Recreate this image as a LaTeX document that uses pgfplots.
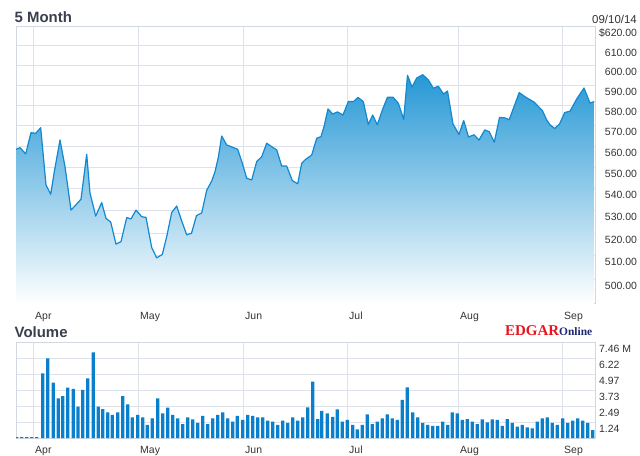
\documentclass[border=0pt]{standalone}
\usepackage{fontspec}
\setmainfont{Liberation Sans}
\newfontfamily\logofont{Liberation Serif}
\usepackage{pgfplots}
\pgfplotsset{compat=1.18}
\usepackage{pgfplotstable}

\definecolor{gridcol}{RGB}{222,226,234}
\definecolor{framecol}{RGB}{210,216,226}
\definecolor{labelcol}{RGB}{51,51,51}
\definecolor{titlecol}{RGB}{58,63,78}
\definecolor{linecol}{RGB}{18,136,208}
\definecolor{filltop}{RGB}{38,152,213}
\definecolor{barcol}{RGB}{10,128,205}
\definecolor{edgarred}{RGB}{232,20,30}
\definecolor{edgarnavy}{RGB}{30,40,110}

\pgfplotstableread{
x y
16 558.5
20 559.3
25.7 556.3
31 566.5
35.7 566.2
40.7 568.9
46 541.8
50.7 537.5
54.3 547.9
60 563.0
65 550.3
71 530.3
81 535.2
86.7 556.2
90 538.0
95.7 527.6
101.7 533.7
106 526.6
110.7 524.9
116 515.1
121 516.2
126.7 526.9
131 526.3
136 530.3
141.7 527.3
146 527.0
151.7 513.6
156.7 509.1
162.3 510.6
166.7 518.4
171.7 529.2
176.7 532.1
181.7 525.4
186.7 519.2
191.5 519.9
196.5 527.8
201.7 529.0
206.7 539.3
211.7 543.6
215 547.9
218.3 554.7
221.7 564.9
226.7 560.6
232.3 559.5
237.7 558.5
242.3 551.9
246.7 544.9
251.7 544.1
256.7 552.7
261.7 555.0
266.7 561.4
271.7 559.8
276.7 558.2
281.7 550.6
286.7 550.6
292.3 543.8
297.7 542.3
301.7 551.9
305 553.5
311.7 555.8
316.7 563.8
321 564.6
324 569.4
328 578.1
332.7 575.6
337.5 576.6
343 575.1
348.3 581.7
353.5 581.7
358 583.8
363.3 581.7
368.3 570.5
372.7 575.1
377.3 570.3
382.7 578.0
387.5 583.9
393 583.9
398.3 580.9
403.7 573.0
407.5 594.9
412 589.0
416.7 593.5
422.7 595.2
428.3 592.6
433.3 588.4
438.3 589.4
443.5 585.5
447.5 587.0
453 570.7
459 565.6
463.7 572.4
468.5 564.4
474 565.5
479 562.9
484.7 567.8
489.2 567.0
494.3 561.9
499.5 573.9
504.7 573.7
509.2 572.8
519.2 586.2
526 583.8
534 581.5
542.5 577.2
546.7 572.7
550 570.3
554.7 568.5
559.5 570.7
564.7 576.3
570 577.0
576.7 583.0
584 588.5
590 581.0
594.3 581.7
}\price

\pgfplotstableread{
x v
16.7 0.06
21.7 0.06
26.7 0.06
31.7 0.06
36.7 0.06
42.7 5.05
47.7 6.22
53.3 4.32
58.3 3.10
62.7 3.28
67.7 3.93
73.3 3.83
78 2.45
82.7 3.75
87.7 4.66
93.3 6.69
98.3 2.45
102.7 2.26
107.7 2.00
112.3 1.80
117.7 2.00
122.7 3.28
127.7 2.63
132.3 1.62
137.7 1.80
142.7 1.62
147.3 1.02
152.3 1.54
157.7 3.10
162.7 1.93
167.7 2.37
172.7 1.80
177.7 1.54
182.7 1.09
187.7 1.62
192.7 1.46
197.7 1.19
202.7 1.72
207.7 1.09
212.7 1.54
217.7 1.80
222.7 2.00
227.7 1.54
232.7 1.27
237.3 1.72
242.7 1.41
247.7 1.80
252.7 1.72
257.7 1.62
262.7 1.62
267.7 1.35
272.7 1.27
277.7 1.02
282.7 1.35
287.7 1.19
292.7 1.62
297.7 1.35
302.7 1.62
307.7 2.40
312.7 4.40
317.7 1.48
321.7 2.11
327.3 1.93
332.7 1.66
337.3 2.24
342.3 1.27
347.3 1.41
352.7 1.02
357.3 0.68
362.3 1.02
367.3 1.85
372.3 1.09
377.3 1.27
382.3 1.54
387.3 1.85
392.3 1.54
397.3 1.41
402.3 2.97
407.3 3.96
412.7 2.00
417.7 1.62
422.7 1.19
427.7 1.02
432.7 0.94
437.7 0.94
442.7 1.27
447.7 1.02
452.3 2.00
457.3 1.93
462.3 1.41
467.3 1.48
472.3 1.27
477.3 1.09
482.3 1.46
487.3 1.23
492.3 1.46
497.3 1.41
502.3 0.94
507.3 1.48
512.3 1.19
517.3 0.88
522.3 1.02
527.3 0.84
532.3 0.76
537.3 1.27
542.3 1.54
547.3 1.62
552.3 1.19
557.3 1.02
562.7 1.54
567.7 1.19
572.7 1.35
577.7 1.54
582.7 1.35
587.7 1.19
592.7 0.62
}\volume

\pgfplotsset{
  chartbase/.style={
    scale only axis,
    width=579bp,
    xmin=16, xmax=595,
    xtick={33,138,243,347,458,562},
    xticklabels={Apr,May,Jun,Jul,Aug,Sep},
    grid=major,
    major grid style={draw=gridcol, line width=1bp},
    axis line style={draw=framecol, line width=1bp},
    major tick length=0pt,
    tick label style={font=\fontsize{10.5}{12}\selectfont, text=labelcol},
    xticklabel style={anchor=north west, xshift=-1.3bp, text height=7.6bp, text depth=2.2bp},
    yticklabel pos=right,
    clip=true,
  }
}

\begin{document}
\begin{tikzpicture}
\useasboundingbox (0bp,0bp) rectangle (640bp,-456bp);

% titles
\node[anchor=base west, inner sep=0, font=\fontsize{15}{17}\selectfont\bfseries, text=titlecol] at (14.5bp,-22.5bp) {5 Month};
\node[anchor=base east, inner sep=0, font=\fontsize{11.5}{13}\selectfont, text=labelcol] at (637bp,-23.3bp) {09/10/14};
\node[anchor=base west, inner sep=0, font=\fontsize{15}{17}\selectfont\bfseries, text=titlecol] at (14.5bp,-337.3bp) {Volume};
\node[anchor=base west, inner sep=0] at (505bp,-335bp) {\logofont\bfseries\fontsize{15}{17}\selectfont\textcolor{edgarred}{EDGAR}\textcolor{edgarnavy}{\fontsize{11.5}{13}\selectfont Online}};

% price chart
\begin{axis}[chartbase,
  at={(16bp,-27bp)}, anchor=north west,
  height=277bp,
  ymode=log,
  ymin=489.5, ymax=620,
  ytick={500,510,520,530,540,550,560,570,580,590,600,610,620},
  yticklabels={500.00,510.00,520.00,530.00,540.00,550.00,560.00,570.00,580.00,590.00,600.00,610.00,\$620.00},
  yticklabel style={anchor=east, xshift=45.5bp, yshift=-6.5bp},
  xticklabel style={yshift=-4.2bp},
]
\addplot[draw=none, top color=filltop, bottom color=white, forget plot]
  table[x=x, y=y] {\price} -- (axis cs:594.3,489.5) -- (axis cs:16,489.5) -- cycle;
\addplot[draw=linecol, line width=1.2bp, no markers, line join=round] table[x=x, y=y] {\price};
\end{axis}

% volume chart
\begin{axis}[chartbase,
  at={(16bp,-342.5bp)}, anchor=north west,
  height=95.5bp,
  ymin=0, ymax=7.46,
  ytick={1.24,2.49,3.73,4.97,6.22,7.46},
  yticklabels={1.24,2.49,3.73,4.97,6.22,7.46 M},
  yticklabel style={anchor=west, xshift=0.5bp, yshift=-6.5bp},
  xticklabel style={yshift=-4.5bp},
]
\addplot[ybar, bar width=3.2, fill=barcol, draw=none] table[x=x, y=v] {\volume};
\end{axis}
\end{tikzpicture}
\end{document}
